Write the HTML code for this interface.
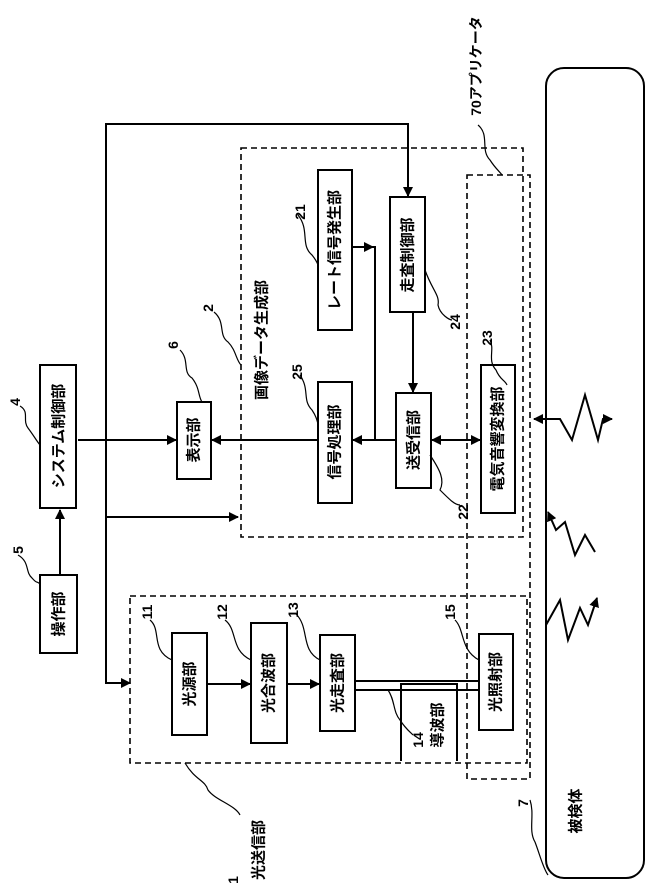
<!DOCTYPE html>
<html><head><meta charset="utf-8"><style>
html,body{margin:0;padding:0;background:#fff;}
svg{display:block;}
text{font-family:"Liberation Sans","Noto Sans CJK JP",sans-serif;font-weight:bold;fill:#000;}
</style></head><body>
<svg width="653" height="894" viewBox="0 0 653 894" xmlns="http://www.w3.org/2000/svg">
<defs>
<marker id="a" markerWidth="10" markerHeight="10" refX="9" refY="5" orient="auto" markerUnits="userSpaceOnUse"><path d="M0,0 L10,5 L0,10 z" fill="#000"/></marker>
</defs>
<g fill="none" stroke="#000" stroke-width="2">
<rect x="546" y="68" width="98" height="810" rx="18"/>
<rect x="40" y="365" width="36" height="143"/>
<rect x="40" y="575" width="37" height="78"/>
<rect x="177" y="402" width="34" height="77"/>
<rect x="318" y="170" width="34" height="160"/>
<rect x="390" y="197" width="35" height="115"/>
<rect x="318" y="382" width="34" height="121"/>
<rect x="396" y="393" width="35" height="95"/>
<rect x="481" y="365" width="34" height="148"/>
<rect x="172" y="633" width="35" height="102"/>
<rect x="251" y="623" width="36" height="120"/>
<rect x="320" y="635" width="35" height="96"/>
<path d="M401,761 V684 H457 V761"/>
<rect x="479" y="634" width="34" height="96"/>
</g>
<g fill="none" stroke="#000" stroke-width="1.6" stroke-dasharray="6,4">
<rect x="241" y="148" width="282" height="389"/>
<rect x="467" y="175" width="63" height="604"/>
<rect x="130" y="596" width="397" height="167"/>
</g>
<g fill="none" stroke="#000" stroke-width="2">
<path d="M60,575 V510" marker-end="url(#a)"/>
<path d="M106,517 V124 H408 V196" marker-end="url(#a)"/>
<path d="M106,517 H238" marker-end="url(#a)"/>
<path d="M106,517 V683 H130" marker-end="url(#a)"/>
<path d="M78,440 H176" marker-end="url(#a)"/>
<path d="M318,440 H212" marker-end="url(#a)"/>
<path d="M396,440 H353" marker-end="url(#a)"/>
<path d="M352,247 H375 V440"/>
<path d="M352,247 H373" marker-end="url(#a)"/>
<path d="M413,312 V392" marker-end="url(#a)"/>
<path d="M455,440 H432" marker-end="url(#a)"/>
<path d="M455,440 H480" marker-end="url(#a)"/>
<path d="M207,684 H250" marker-end="url(#a)"/>
<path d="M287,684 H319" marker-end="url(#a)"/>
<path d="M355,681 H479 M355,690 H479"/>
<path d="M546,419 H534" marker-end="url(#a)"/>
<path d="M546,419 H560 L572,440 L585,395 L598,440 L603,419 L612,419" marker-end="url(#a)"/>
<path d="M595,552 L585,535 L575,555 L565,522 L556,530 L548,512" marker-end="url(#a)"/>
<path d="M546,625 L560,600 L568,640 L580,608 L588,625 L597,598" marker-end="url(#a)"/>
</g>
<g fill="none" stroke="#000" stroke-width="1.2">
<path d="M20,406 C30,412 22,420 28,428 C34,436 36,440 40,445"/>
<path d="M18,555 C30,562 25,572 32,578 C38,585 36,580 40,584"/>
<path d="M180,350 C190,360 182,372 192,378 C200,388 198,396 202,402"/>
<path d="M214,312 C226,322 218,335 228,342 C236,350 236,360 241,365"/>
<path d="M298,215 C310,230 300,245 312,255 C316,260 317,262 318,265"/>
<path d="M300,375 C310,390 302,400 312,410 C316,416 317,420 318,424"/>
<path d="M425,270 C432,290 440,295 438,305 C440,315 450,320 452,320"/>
<path d="M430,455 C440,470 445,480 440,490 C450,500 455,505 460,505"/>
<path d="M490,340 C495,350 487,360 496,370 C500,380 505,380 507,385"/>
<path d="M478,125 C490,135 480,150 490,160 C495,168 500,172 502,175"/>
<path d="M150,620 C162,630 150,650 172,660"/>
<path d="M225,620 C238,630 230,650 251,660"/>
<path d="M296,614 C310,628 300,650 320,660"/>
<path d="M388,690 C395,700 393,712 400,720 C405,728 410,732 413,735"/>
<path d="M455,620 C465,630 460,650 479,660"/>
<path d="M185,763 C195,780 205,780 208,790 C215,800 235,805 240,815"/>
<path d="M530,800 C535,815 528,830 535,842 C540,855 543,868 548,875"/>
</g>
<g font-size="15">
<text transform="translate(59,436) rotate(-90)" text-anchor="middle" dominant-baseline="central">システム制御部</text>
<text transform="translate(59,614) rotate(-90)" text-anchor="middle" dominant-baseline="central">操作部</text>
<text transform="translate(194,440) rotate(-90)" text-anchor="middle" dominant-baseline="central">表示部</text>
<text transform="translate(335,250) rotate(-90)" text-anchor="middle" dominant-baseline="central">レート信号発生部</text>
<text transform="translate(408,255) rotate(-90)" text-anchor="middle" dominant-baseline="central">走査制御部</text>
<text transform="translate(335,442) rotate(-90)" text-anchor="middle" dominant-baseline="central">信号処理部</text>
<text transform="translate(414,440) rotate(-90)" text-anchor="middle" dominant-baseline="central">送受信部</text>
<text transform="translate(498,439) rotate(-90)" text-anchor="middle" dominant-baseline="central">電気音響変換部</text>
<text transform="translate(262,340) rotate(-90)" text-anchor="middle" dominant-baseline="central">画像データ生成部</text>
<text transform="translate(190,684) rotate(-90)" text-anchor="middle" dominant-baseline="central">光源部</text>
<text transform="translate(269,683) rotate(-90)" text-anchor="middle" dominant-baseline="central">光合波部</text>
<text transform="translate(338,683) rotate(-90)" text-anchor="middle" dominant-baseline="central">光走査部</text>
<text transform="translate(438,725) rotate(-90)" text-anchor="middle" dominant-baseline="central">導波部</text>
<text transform="translate(496,682) rotate(-90)" text-anchor="middle" dominant-baseline="central">光照射部</text>
<text transform="translate(576,811) rotate(-90)" text-anchor="middle" dominant-baseline="central">被検体</text>
<text transform="translate(259,850) rotate(-90)" text-anchor="middle" dominant-baseline="central">光送信部</text>
<text transform="translate(476,66) rotate(-90)" text-anchor="middle" dominant-baseline="central" font-weight="normal" font-size="14">70アプリケータ</text>
</g>
<g font-size="14" font-weight="normal">
<text transform="translate(15,402) rotate(-90)" text-anchor="middle" dominant-baseline="central">4</text>
<text transform="translate(18,550) rotate(-90)" text-anchor="middle" dominant-baseline="central">5</text>
<text transform="translate(173,345) rotate(-90)" text-anchor="middle" dominant-baseline="central">6</text>
<text transform="translate(208,308) rotate(-90)" text-anchor="middle" dominant-baseline="central">2</text>
<text transform="translate(300,212) rotate(-90)" text-anchor="middle" dominant-baseline="central">21</text>
<text transform="translate(297,372) rotate(-90)" text-anchor="middle" dominant-baseline="central">25</text>
<text transform="translate(455,322) rotate(-90)" text-anchor="middle" dominant-baseline="central">24</text>
<text transform="translate(463,512) rotate(-90)" text-anchor="middle" dominant-baseline="central">22</text>
<text transform="translate(487,338) rotate(-90)" text-anchor="middle" dominant-baseline="central">23</text>
<text transform="translate(147,612) rotate(-90)" text-anchor="middle" dominant-baseline="central">11</text>
<text transform="translate(222,612) rotate(-90)" text-anchor="middle" dominant-baseline="central">12</text>
<text transform="translate(293,610) rotate(-90)" text-anchor="middle" dominant-baseline="central">13</text>
<text transform="translate(418,740) rotate(-90)" text-anchor="middle" dominant-baseline="central">14</text>
<text transform="translate(450,612) rotate(-90)" text-anchor="middle" dominant-baseline="central">15</text>
<text transform="translate(233,880) rotate(-90)" text-anchor="middle" dominant-baseline="central">1</text>
<text transform="translate(523,803) rotate(-90)" text-anchor="middle" dominant-baseline="central">7</text>
</g>
</svg>
</body></html>
